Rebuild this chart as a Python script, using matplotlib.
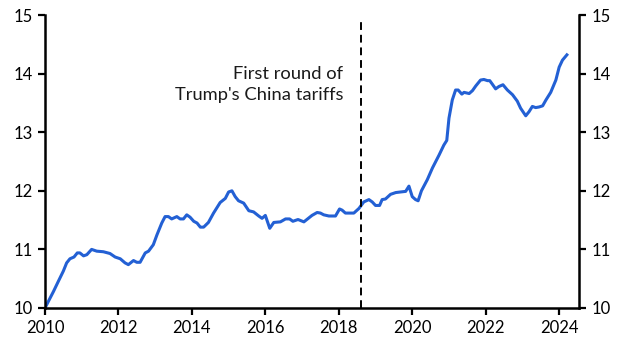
import matplotlib
matplotlib.use("Agg")
import matplotlib.pyplot as plt

# decimal year and value
years = [2010.0, 2010.23, 2010.36, 2010.5, 2010.59, 2010.68, 2010.79, 2010.88, 2010.95,
         2011.05, 2011.14, 2011.27, 2011.41, 2011.59, 2011.77, 2011.91, 2012.05, 2012.18,
         2012.27, 2012.41, 2012.5, 2012.59, 2012.73, 2012.82, 2012.95, 2013.05, 2013.18,
         2013.27, 2013.36, 2013.45, 2013.59, 2013.68, 2013.77, 2013.86, 2013.95, 2014.05,
         2014.14, 2014.23, 2014.32, 2014.45, 2014.59, 2014.77, 2014.91, 2015.0, 2015.09,
         2015.18, 2015.27, 2015.41, 2015.55, 2015.68, 2015.82, 2015.91, 2016.0, 2016.12,
         2016.23, 2016.41, 2016.55, 2016.66, 2016.75, 2016.89, 2017.05, 2017.27, 2017.41,
         2017.5, 2017.59, 2017.73, 2017.91, 2018.02, 2018.09, 2018.18, 2018.41, 2018.55,
         2018.68, 2018.82, 2018.91, 2019.0, 2019.11, 2019.18, 2019.27, 2019.41, 2019.55,
         2019.68, 2019.82, 2019.91, 2020.0, 2020.09, 2020.16, 2020.25, 2020.41, 2020.55,
         2020.73, 2020.86, 2020.94, 2021.0, 2021.09, 2021.18, 2021.25, 2021.35, 2021.41,
         2021.55, 2021.64, 2021.73, 2021.86, 2021.95, 2022.05, 2022.11, 2022.18, 2022.27,
         2022.36, 2022.47, 2022.59, 2022.73, 2022.86, 2022.95, 2023.09, 2023.18, 2023.27,
         2023.36, 2023.45, 2023.55, 2023.64, 2023.77, 2023.91, 2024.0, 2024.09, 2024.21]
values = [10.0, 10.28, 10.45, 10.63, 10.77, 10.84, 10.87, 10.94, 10.94,
          10.89, 10.91, 11.0, 10.97, 10.96, 10.93, 10.87, 10.84, 10.77,
          10.74, 10.81, 10.78, 10.78, 10.94, 10.97, 11.08, 11.25, 11.45,
          11.56, 11.56, 11.52, 11.56, 11.52, 11.52, 11.59, 11.55, 11.48,
          11.45, 11.38, 11.38, 11.46, 11.62, 11.80, 11.87, 11.98, 12.0,
          11.90, 11.83, 11.79, 11.66, 11.64, 11.57, 11.53, 11.58, 11.36,
          11.46, 11.47, 11.52, 11.52, 11.48, 11.51, 11.47, 11.58, 11.63,
          11.62, 11.59, 11.57, 11.57, 11.69, 11.67, 11.62, 11.62, 11.70,
          11.81, 11.85, 11.81, 11.75, 11.75, 11.85, 11.86, 11.94, 11.97,
          11.98, 11.99, 12.08, 11.90, 11.85, 11.83, 12.0, 12.19, 12.39,
          12.61, 12.78, 12.86, 13.24, 13.55, 13.72, 13.72, 13.65, 13.68,
          13.66, 13.71, 13.79, 13.89, 13.90, 13.88, 13.88, 13.82, 13.74,
          13.78, 13.81, 13.72, 13.64, 13.53, 13.41, 13.28, 13.35, 13.44,
          13.42, 13.43, 13.45, 13.55, 13.68, 13.89, 14.11, 14.23, 14.32]

x_ticks = [2010, 2012, 2014, 2016, 2018, 2020, 2022, 2024]
y_ticks = [10, 11, 12, 13, 14, 15]
tariff_date = 2018.6
note = "First round of\nTrump's China tariffs"

plt.rcParams['font.family'] = ['Lato', 'DejaVu Sans']

fig = plt.figure(figsize=(6.29, 3.55), dpi=100)
ax = fig.add_axes([0.0715, 0.1324, 0.849, 0.8253])

ax.plot(years, values, color='#2360d4', lw=2.2, solid_joinstyle='round')
ax.plot([tariff_date, tariff_date], [10, 14.91], color='black', lw=1.4,
        dashes=(4, 2.5))
ax.text(2018.12, 13.82, note, ha='right', va='center', fontsize=13.2,
        linespacing=1.38, color='#1a1a1a')

ax.set_xlim(2010, 2024.54)
ax.set_ylim(10, 15)
ax.set_xticks(x_ticks)
ax.set_yticks(y_ticks)

for side in ['left', 'right', 'bottom']:
    ax.spines[side].set_linewidth(1.8)
ax.spines['top'].set_visible(False)

ax.tick_params(axis='both', direction='out', length=5, width=1.6, labelsize=12,
               colors='black')
ax.tick_params(axis='y', left=True, right=True, labelleft=True, labelright=True, pad=4)
ax.tick_params(axis='x', pad=4)

fig.savefig('out.png', dpi=100)
